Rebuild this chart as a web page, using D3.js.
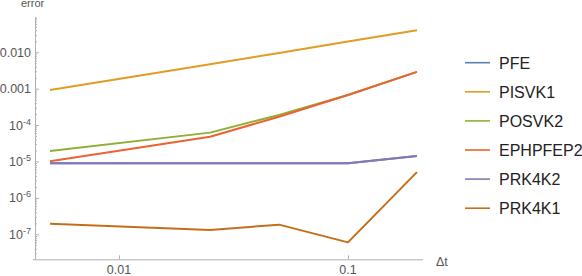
<!DOCTYPE html>
<html>
<head>
<meta charset="utf-8">
<script src="https://cdn.jsdelivr.net/npm/d3@7"></script>
<style>
  body { margin: 0; background: #fff; }
  text { font-family: "Liberation Sans", Arial, sans-serif; }
</style>
</head>
<body>
<svg id="chart" width="582" height="276"></svg>
<script>
// data
var dt = [0.005, 0.025, 0.05, 0.1, 0.2];
var names = ["PFE", "PISVK1", "POSVK2", "EPHPFEP2", "PRK4K2", "PRK4K1"];
var colors = ["#5E81B5", "#E19C24", "#8FB032", "#EB6235", "#8778B3", "#C56E1A"];
var pfe      = [8.9e-6, 8.9e-6, 8.9e-6, 8.9e-6, 1.42e-5];
var pisvk1   = [9.2e-4, 4.7e-3, 9.6e-3, 0.0197, 0.040];
var posvk2   = [1.94e-5, 6.2e-5, 1.9e-4, 6.7e-4, 2.9e-3];
var ephpfep2 = [1.01e-5, 4.8e-5, 1.7e-4, 6.7e-4, 2.9e-3];
var prk4k2   = [8.9e-6, 8.9e-6, 8.9e-6, 8.9e-6, 1.42e-5];
var prk4k1   = [1.95e-7, 1.31e-7, 1.84e-7, 6.0e-8, 5.1e-6];
var series = [pfe, pisvk1, posvk2, ephpfep2, prk4k2, prk4k1];

var yMajor = [1e-7, 1e-6, 1e-5, 1e-4, 1e-3, 1e-2];
var yLabels = [["10", "-7"], ["10", "-6"], ["10", "-5"], ["10", "-4"], ["0.001", ""], ["0.010", ""]];
var xMajor = [0.01, 0.1];
var xLabels = ["0.01", "0.1"];

var svg = d3.select("#chart");

var x = d3.scaleLog().domain([0.004256, 0.2126]).range([34, 423]);
var y = d3.scaleLog().domain([Math.pow(10, -7.687), Math.pow(10, -1.04)]).range([259.3, 17.3]);

// minor y ticks
var yMinor = [];
for (var e = -8; e <= -2; e++) {
  for (var m = 2; m <= 9; m++) {
    var v = m * Math.pow(10, e);
    if (v >= y.domain()[0] && v <= y.domain()[1]) yMinor.push(v);
  }
}

var axisColor = "#b0b0b0";
var labelColor = "#555";

var gyMinor = svg.append("g").attr("transform", "translate(35,0)")
  .call(d3.axisLeft(y).tickValues(yMinor).tickSize(-2).tickFormat(""));
var gy = svg.append("g").attr("transform", "translate(35,0)")
  .call(d3.axisLeft(y).tickValues(yMajor).tickSize(-4).tickPadding(4).tickFormat(""));
gy.selectAll(".domain").attr("d", "M0.5,17.3V259.3");
gyMinor.select(".domain").remove();

var gx = svg.append("g").attr("transform", "translate(0,259.3)")
  .call(d3.axisBottom(x).tickValues(xMajor).tickSize(-4).tickFormat(""));
gx.select(".domain").attr("d", "M33,0.5H423");

svg.selectAll(".domain").attr("stroke", axisColor);
svg.selectAll(".tick line").attr("stroke", axisColor);

// y tick labels with superscripts
var yl = svg.append("g").selectAll("text").data(yMajor).enter().append("text")
  .attr("x", 31)
  .attr("y", function(d){ return y(d) + 4.5; })
  .attr("text-anchor", "end")
  .attr("fill", labelColor)
  .attr("font-size", 12.5);
yl.each(function(d, i){
  var t = d3.select(this);
  t.append("tspan").text(yLabels[i][0]);
  if (yLabels[i][1]) {
    t.append("tspan").attr("dy", -5).attr("font-size", 9).text(yLabels[i][1]);
  }
});

// x tick labels
svg.append("g").selectAll("text").data(xMajor).enter().append("text")
  .attr("x", function(d){ return x(d); })
  .attr("y", 274)
  .attr("text-anchor", "middle")
  .attr("fill", labelColor)
  .attr("font-size", 12.5)
  .text(function(d, i){ return xLabels[i]; });

svg.append("text").attr("x", 21).attr("y", 7).attr("fill", labelColor)
  .attr("font-size", 11).text("error");
svg.append("text").attr("x", 436).attr("y", 266).attr("fill", labelColor)
  .attr("font-size", 12.5).text("Δt");

// lines
var line = d3.line()
  .x(function(d, i){ return x(dt[i]); })
  .y(function(d){ return y(d); });

svg.append("g").selectAll("path").data(series).enter().append("path")
  .attr("d", line)
  .attr("fill", "none")
  .attr("stroke", function(d, i){ return colors[i]; })
  .attr("stroke-width", 2)
  .attr("stroke-linejoin", "round");

// legend
var lg = svg.append("g").selectAll("g").data(names).enter().append("g")
  .attr("transform", function(d, i){ return "translate(465," + (62.7 + i * 29.1) + ")"; });
lg.append("line").attr("x1", 0).attr("x2", 25).attr("y1", 0).attr("y2", 0)
  .attr("stroke", function(d, i){ return colors[i]; })
  .attr("stroke-width", 1.6);
lg.append("text").attr("x", 34).attr("y", 5.8)
  .attr("font-size", 16).attr("fill", "#222")
  .text(function(d){ return d; });
</script>
</body>
</html>
